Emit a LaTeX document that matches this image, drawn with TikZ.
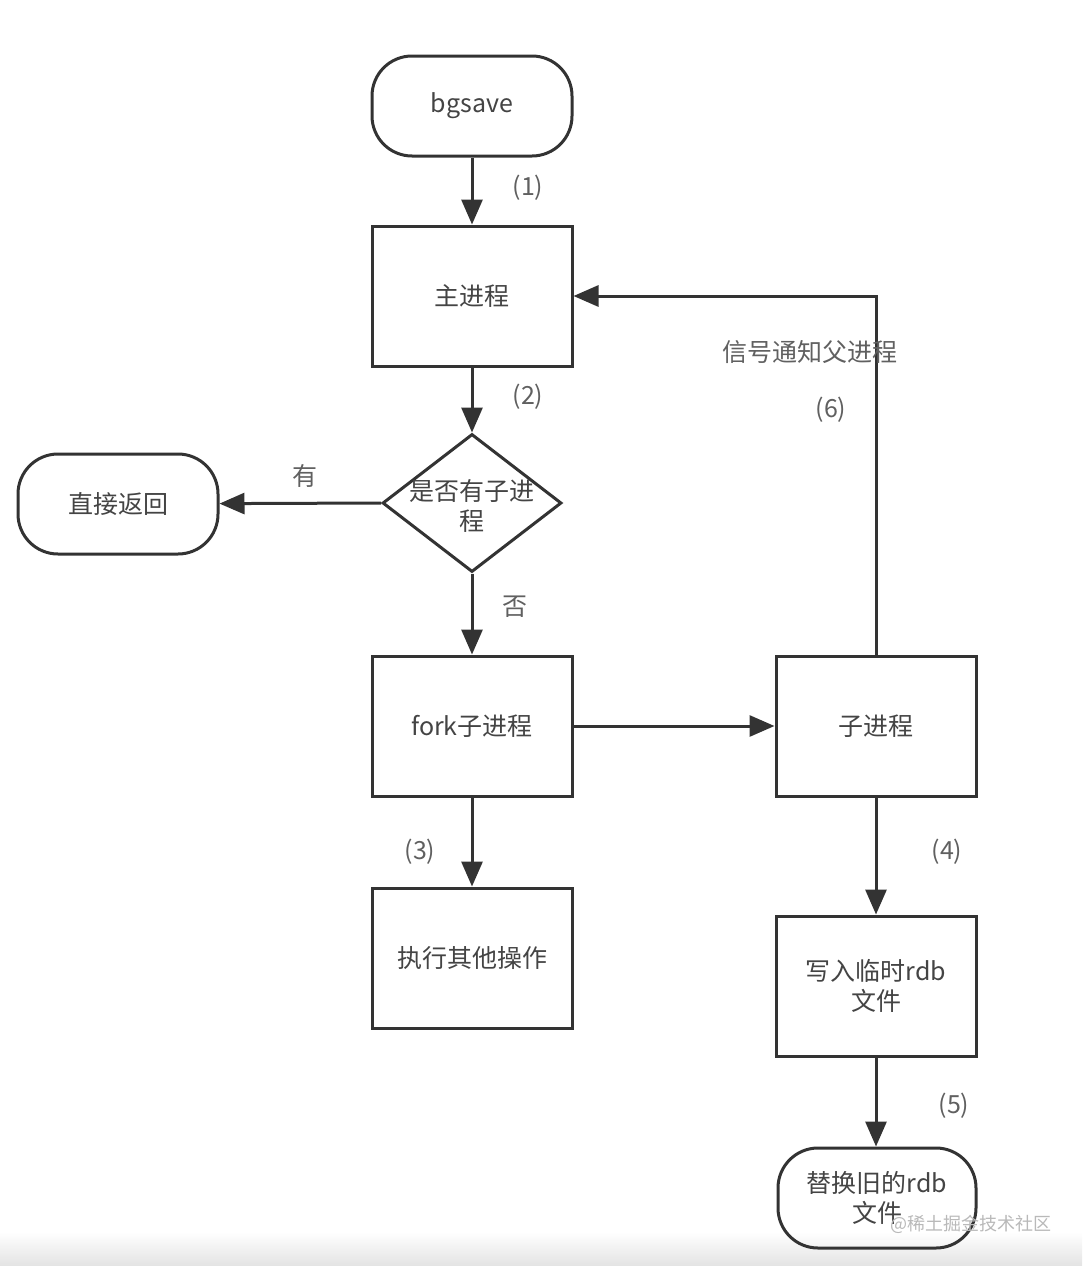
\documentclass[tikz,border=0pt]{standalone}
\usepackage{fontspec}
\setmainfont{Noto Sans CJK SC}
\usetikzlibrary{arrows.meta,shapes.geometric}
\definecolor{ln}{HTML}{333333}
\definecolor{tx}{HTML}{444444}
\begin{document}
\begin{tikzpicture}[x=1pt,y=-1pt,
  every node/.style={font=\fontsize{25}{30}\selectfont, text=tx},
  boxx/.style={draw=ln, line width=3pt, minimum width=200pt, minimum height=140pt, inner sep=0pt, align=center},
  term/.style={draw=ln, line width=3pt, rounded corners=40pt, minimum width=200pt, minimum height=100pt, inner sep=0pt, align=center},
  dec/.style={draw=ln, line width=3pt, diamond, minimum width=179pt, minimum height=138pt, inner sep=0pt, align=center, aspect=1.3},
  conn/.style={draw=ln, line width=3pt, -{Triangle[length=25pt,width=21pt]}},
  lbl/.style={text=tx!85}
]
\useasboundingbox (0,0) rectangle (1082,1266);
\fill[white] (0,0) rectangle (1082,1266);
\shade[top color=white, bottom color=gray!22] (0,1232) rectangle (1082,1266);

\node[term] (bg) at (472,106) {\raisebox{-3pt}{bgsave}};
\node[boxx] (main) at (472,296) {主进程};
\node[dec, minimum width=179pt, minimum height=138pt] (q) at (472,503) {};
\node at (472,491) {是否有子进};
\node at (472,521) {程};
\node[term] (ret) at (118,504) {直接返回};
\node[boxx] (fork) at (472,726) {\raisebox{-2pt}{fork子进程}};
\node[boxx] (child) at (876,726) {子进程};
\node[boxx] (other) at (472,958) {执行其他操作};
\node[boxx] (write) at (876,986) {写入临时rdb\\文件};
\node[term, minimum width=198pt] (repl) at (877,1198) {替换旧的rdb\\文件};

\draw[conn] (bg) -- (main);
\draw[conn] (main) -- (q.north);
\draw[conn] (q.west) -- (ret);
\draw[conn] (q.south) -- (fork);
\draw[conn] (fork) -- (child);
\draw[conn] (fork) -- (other);
\draw[conn] (child) -- (write);
\draw[conn] (write.south) -- (repl.north -| write.south);
\draw[conn] (child.north) -- (876,296) -- (main.east);

\node[lbl] at (528,188) {(1)};
\node[lbl] at (528,397) {(2)};
\node[lbl] at (305,476) {有};
\node[lbl] at (515,607) {否};
\node[lbl] at (420,852) {(3)};
\node[lbl] at (947,852) {(4)};
\node[lbl] at (954,1106) {(5)};
\node[lbl] at (810,352) {信号通知父进程};
\node[lbl] at (831,410) {(6)};
\node[font=\fontsize{18}{20}\selectfont, text=gray!55] (wm) at (971,1224) {@稀土掘金技术社区};
\end{tikzpicture}
\end{document}
